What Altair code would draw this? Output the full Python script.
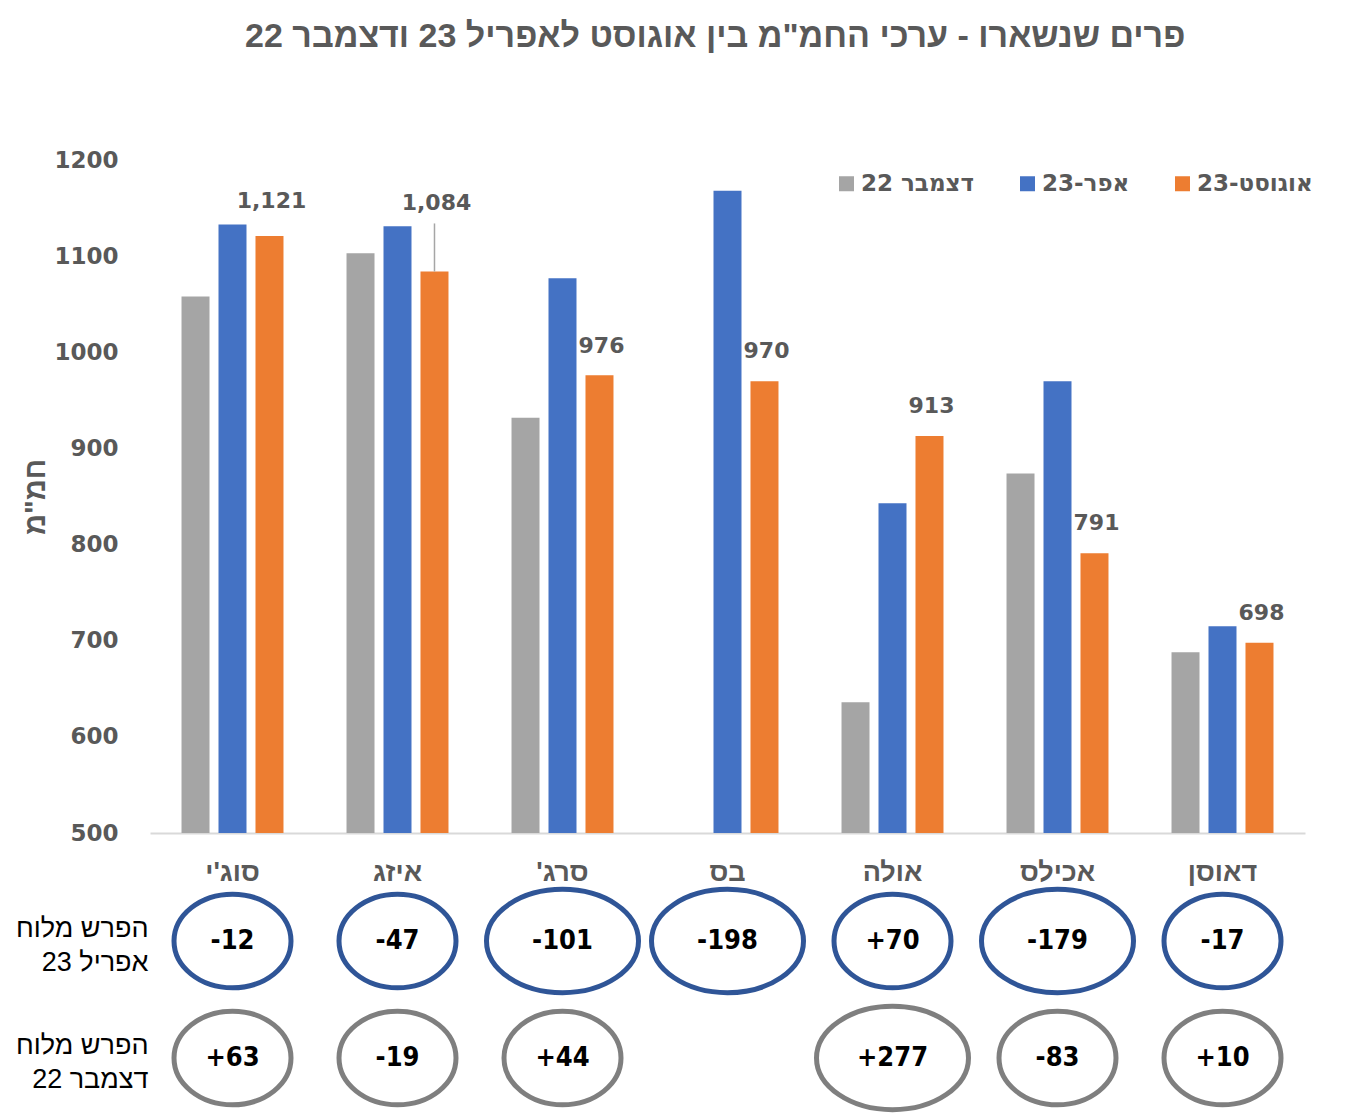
import altair as alt
import pandas as pd

# ---------------- data ----------------
categories = ["סוג'י", "איזג", "סרג'", "בס", "אולה", "אכילס", "דאוסן"]
series = ["דצמבר 22", "אפר-23", "אוגוסט-23"]
dec22 = [1058, 1103, 932, None, 636, 874, 688]
apr23 = [1133, 1131, 1077, 1168, 843, 970, 715]
aug23 = [1121, 1084, 976, 970, 913, 791, 698]
diff_rows = ["אפריל 23", "דצמבר 22"]
y_ticks = [500, 600, 700, 800, 900, 1000, 1100, 1200]

title_text = 'פרים שנשארו - ערכי החמ"מ בין אוגוסט לאפריל 23 ודצמבר 22'
y_title = 'חמ"מ'
row_prefix = "הפרש מלוח"

colors = ["#A5A5A5", "#4472C4", "#ED7D31"]
ring_colors = ["#2F5597", "#7F7F7F"]

# long table for bars
rows = []
for i, c in enumerate(categories):
    for s, vals in zip(series, [dec22, apr23, aug23]):
        if vals[i] is not None:
            rows.append({"cat": c, "series": s, "value": vals[i], "apr": apr23[i]})
bars_df = pd.DataFrame(rows)

# differences table (August relative to April / December)
drows = []
for i, c in enumerate(categories):
    for r, ref in zip(diff_rows, [apr23, dec22]):
        if ref[i] is not None:
            d = aug23[i] - ref[i]
            drows.append({"cat": c, "row": r, "label": f"{d:+d}"})
diff_df = pd.DataFrame(drows)

W, H = 1155, 673
HEB = "Liberation Sans"
NUM = "DejaVu Sans"
NARROW = "Liberation Sans Narrow, DejaVu Sans Condensed, Liberation Sans"
GREY = "#595959"

x_scale = alt.Scale(domain=categories, paddingInner=0.382, paddingOuter=0.191)

x_top = alt.X(
    "cat:N", sort=categories, scale=x_scale, title=None,
    axis=alt.Axis(labelAngle=0, labelFont=HEB, labelFontSize=27, labelFontWeight="bold",
                  labelColor=GREY, labelPadding=26, ticks=False, domainColor="#D9D9D9",
                  domainWidth=2, labelExpr="datum.label + '\u200f'"),
)
xoff = alt.XOffset("series:N", sort=series, scale=alt.Scale(domain=series, paddingInner=0.243))
y_enc = alt.Y(
    "value:Q", scale=alt.Scale(domain=[500, 1200], nice=False, zero=False),
    axis=alt.Axis(values=y_ticks, format="d", grid=False, domain=False, ticks=False,
                  labelFont=NUM, labelFontWeight="bold", labelFontSize=23, labelColor=GREY,
                  labelPadding=32, title=y_title, titleFont=HEB, titleFontSize=29,
                  titleFontWeight="bold", titleColor=GREY, titlePadding=3),
)

bars = alt.Chart(bars_df).mark_bar().encode(
    x=x_top, xOffset=xoff, y=y_enc, y2=alt.datum(500),
    color=alt.Color(
        "series:N", sort=series, scale=alt.Scale(domain=series, range=colors),
        legend=alt.Legend(title=None, orient="none", legendX=685, legendY=12,
                          direction="horizontal", symbolType="square", symbolSize=225,
                          symbolStrokeWidth=0, labelFont=NUM, labelFontWeight="bold",
                          labelFontSize=23, labelColor=GREY, columnPadding=41, labelOffset=3),
    ),
)

lab_base = alt.Chart(bars_df).transform_filter(
    alt.datum.series == series[2]
).transform_calculate(
    ly="datum.value >= 1000 ? max(datum.value + 31, datum.apr + 24) : datum.value + 31"
)

labels = lab_base.mark_text(font=NUM, fontWeight="bold", fontSize=22, color=GREY,
                            baseline="middle", dx=2).encode(
    x=alt.X("cat:N", sort=categories, scale=x_scale),
    xOffset=xoff,
    y=alt.Y("ly:Q"),
    text=alt.Text("value:Q", format=","),
)

leader = lab_base.transform_filter("datum.ly - datum.value > 40").transform_calculate(
    ly2="datum.ly - 21"
).mark_rule(color="#A6A6A6", strokeWidth=1.5).encode(
    x=alt.X("cat:N", sort=categories, scale=x_scale),
    xOffset=xoff,
    y=alt.Y("value:Q"),
    y2="ly2:Q",
)

top = alt.layer(bars, leader, labels).properties(width=W, height=H)

# ---------------- difference rings ----------------
def ellipse(ratio):
    return f"M -1 0 A 1 {ratio} 0 1 0 1 0 A 1 {ratio} 0 1 0 -1 0 Z"

x_bot = alt.X("cat:N", sort=categories, scale=x_scale, axis=None)
y_bot = alt.Y(
    "row:N", sort=diff_rows, scale=alt.Scale(type="point", padding=0, domain=diff_rows),
    axis=alt.Axis(title=None, domain=False, ticks=False, labelFont=HEB, labelFontSize=27,
                  labelColor="black", labelLineHeight=34, labelPadding=2, labelLimit=300,
                  labelOffset=-13, labelExpr=f"['{row_prefix}', datum.label]"),
)
stroke_enc = alt.Stroke("row:N", sort=diff_rows,
                        scale=alt.Scale(domain=diff_rows, range=ring_colors), legend=None)

narrow = alt.Chart(diff_df).transform_filter("length(datum.label) <= 3").mark_point(
    shape=ellipse(0.8), size=117 ** 2, strokeWidth=5, filled=False, opacity=1
).encode(x=x_bot, y=y_bot, stroke=stroke_enc)

wide = alt.Chart(diff_df).transform_filter("length(datum.label) > 3").mark_point(
    shape=ellipse(0.68), size=152 ** 2, strokeWidth=5, filled=False, opacity=1
).encode(x=x_bot, y=y_bot, stroke=stroke_enc)

ring_text = alt.Chart(diff_df).mark_text(
    font=NARROW, fontWeight="bold", fontSize=27, color="black", baseline="middle"
).encode(x=x_bot, y=y_bot, text="label:N")

bottom = alt.layer(narrow, wide, ring_text).properties(width=W, height=117)

chart = alt.vconcat(top, bottom, spacing=-6).properties(
    title=alt.TitleParams(title_text, font=HEB, fontSize=34, fontWeight="bold",
                          color=GREY, anchor="middle", offset=95, dx=51),
    padding={"left": 7, "top": 12, "right": 10, "bottom": 0},
).configure_view(stroke=None)

chart.save("out.html", embed_options={"renderer": "svg", "actions": False})
